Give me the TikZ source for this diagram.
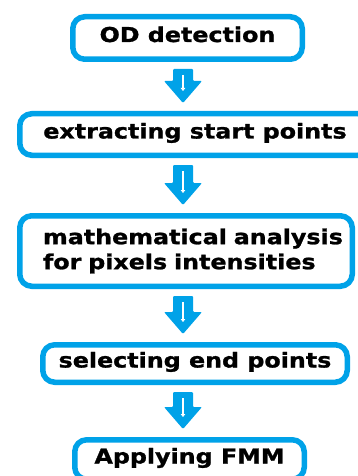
\documentclass[tikz,border=0pt]{standalone}
\usepackage{fontspec}
\newfontfamily\lbl[FakeStretch=1.16,FakeBold=1.2]{DejaVu Sans}
\usetikzlibrary{calc,arrows.meta}
\definecolor{cblue}{RGB}{0,162,232}
\newcommand\blockarrow[2]{%
  \fill[cblue, rounded corners=1pt] ($(#1)+(-10,0)$) -- ($(#1)+(10,0)$) -- ($(#2)+(10,-22)$) -- ($(#2)+(19,-22)$) -- (#2) -- ($(#2)+(-19,-22)$) -- ($(#2)+(-10,-22)$) -- cycle;
  \draw[white, line width=1.8pt, -{Triangle[width=4.5pt,length=3pt]}] ($(#1)+(0,6)$) -- ($(#2)+(0,-12)$);
}
\begin{document}
\begin{tikzpicture}[x=1pt,y=-1pt,
  box/.style={draw=cblue, line width=5.5pt, rounded corners=12pt, inner sep=0pt,
    font=\lbl\bfseries\fontsize{20.5}{25}\selectfont, text=black},
  one/.style={text height=13pt, text depth=5pt}]
\useasboundingbox (0,0) rectangle (358,476);
\node[box, one, minimum width=229.5pt, minimum height=42.5pt] (b1) at (187.5,38) {OD detection};
\node[box, one, minimum width=350.5pt, minimum height=41.5pt] (b2) at (195,134.5) {extracting start points};
\node[box, minimum width=332.5pt, minimum height=70.5pt, text width=314pt, align=left] (b3) at (186,251)
  {\hspace*{14pt}mathematical analysis\\\hspace*{14pt}for pixels intensities};
\node[box, one, minimum width=304.5pt, minimum height=37.5pt] (b4) at (195,363.5) {selecting end points};
\node[box, one, minimum width=229.5pt, minimum height=39.5pt] (b5) at (189.5,459.5) {Applying FMM};
\coordinate (ax) at (183,0);
\path (ax |- b1.south) ++(0,7) coordinate (a1s) (ax |- b2.north) ++(0,-8) coordinate (a1e);
\path (ax |- b2.south) ++(0,7) coordinate (a2s) (ax |- b3.north) ++(0,-8) coordinate (a2e);
\path (ax |- b3.south) ++(0,7) coordinate (a3s) (ax |- b4.north) ++(0,-8) coordinate (a3e);
\path (ax |- b4.south) ++(0,7) coordinate (a4s) (ax |- b5.north) ++(0,-8) coordinate (a4e);
\blockarrow{a1s}{a1e}
\blockarrow{a2s}{a2e}
\blockarrow{a3s}{a3e}
\blockarrow{a4s}{a4e}
\end{tikzpicture}
\end{document}
